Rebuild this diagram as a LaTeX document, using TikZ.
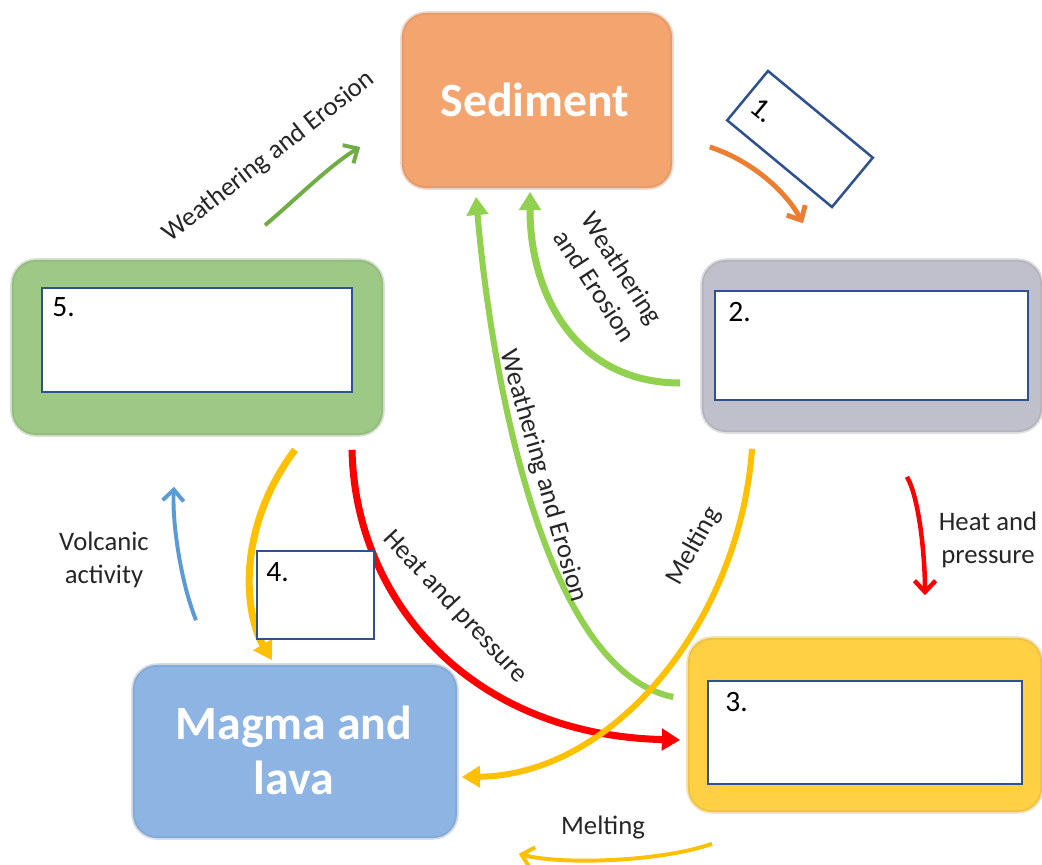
\documentclass[tikz,border=0pt]{standalone}
\usepackage{fontspec}
\setmainfont{Carlito}
\usetikzlibrary{arrows.meta,calc}
\definecolor{sedC}{RGB}{244,164,110}
\definecolor{greyC}{RGB}{192,192,204}
\definecolor{greenC}{RGB}{157,200,134}
\definecolor{yellowC}{RGB}{255,208,68}
\definecolor{blueC}{RGB}{141,180,227}
\definecolor{ansblue}{RGB}{47,82,143}
\definecolor{dkgreen}{RGB}{112,173,71}
\definecolor{ltgreen}{RGB}{146,208,80}
\definecolor{orangeA}{RGB}{237,125,49}
\definecolor{redA}{RGB}{255,0,0}
\definecolor{yellowA}{RGB}{255,192,0}
\definecolor{blueA}{RGB}{91,155,213}
\tikzset{
  rockbox/.style={rectangle, rounded corners=0.6cm, inner sep=0pt, fill=#1, draw=#1!80!black, draw opacity=0.3, line width=2.5pt},
  answer/.style={rectangle, draw=ansblue, line width=1.8pt, fill=white, inner sep=0pt},
  num/.style={font=\fontsize{21}{25}\selectfont, inner sep=0pt, text=black},
  lbl/.style={font=\fontsize{19}{23}\selectfont, text=black!85, inner sep=0pt, align=center},
  bigtxt/.style={font=\fontsize{34}{39}\selectfont\bfseries, text=white, inner sep=0pt, align=center},
  fillhead/.style={-{Triangle[length=13pt,width=15pt]}},
  barbhead/.style={-{Straight Barb[length=8pt,width=15pt]}},
}
\begin{document}
\begin{tikzpicture}[x=0.025cm,y=-0.025cm]
\useasboundingbox (0,0) rectangle (1042,865);
% rock boxes
\node[rockbox=sedC, minimum width=6.75cm, minimum height=4.375cm] (sed) at (537,100.5) {};
\node[rockbox=greyC, minimum width=8.5cm, minimum height=4.3cm] (rock2) at (872,346) {};
\node[rockbox=greenC, minimum width=9.275cm, minimum height=4.375cm] (rock5) at (197.5,347.5) {};
\node[rockbox=yellowC, minimum width=8.85cm, minimum height=4.35cm] (rock3) at (865,725) {};
\node[rockbox=blueC, minimum width=8.1cm, minimum height=4.325cm] (magma) at (295,751.5) {};
% titles
\node[bigtxt] (sedtxt) at (535,100) {Sediment};
\node[bigtxt] (magtxt) at (294,750) {Magma and\\lava};
% connectors
\draw[dkgreen, line width=2.8pt, barbhead] ($(rock5.north)+(67.5,-33)$) .. controls (295,200) and (330,165) .. ($(sed.west)+(-40,46.5)$);
\draw[orangeA, line width=3.5pt, barbhead] ($(sed.east)+(36,46.5)$) .. controls (750,160) and (785,190) .. ($(rock2.north)+(-69,-35)$);
\draw[ltgreen, line width=5pt, fillhead] ($(rock2.west)+(-20,37)$) .. controls (580,383) and (530,300) .. ($(sed.south)+(-7,2)$);
\draw[ltgreen, line width=4.3pt, fillhead] ($(rock3.west)+(-13,-28)$) .. controls (540,670) and (490,360) .. ($(sed.south)+(-61,7)$);
\draw[redA, line width=5pt, fillhead] ($(rock5.south)+(154.5,13)$) .. controls (355,600) and (470,735) .. ($(rock3.west)+(-6,15)$);
\draw[yellowA, line width=4.3pt, fillhead] ($(rock2.south)+(-120,15)$) .. controls (740,620) and (615,775) .. ($(magma.east)+(3,25.5)$);
\draw[yellowA, line width=5pt, fillhead] ($(rock5.south)+(97.5,13)$) .. controls (235,530) and (245,615) .. ($(magma.north)+(-23,-3)$);
\draw[blueA, line width=2.8pt, barbhead] ($(magma.north)+(-99,-43)$) .. controls (180,580) and (172,520) .. ($(rock5.south)+(-23.5,50)$);
\draw[redA, line width=3.2pt, barbhead] ($(rock2.south)+(35,43)$) .. controls (920,500) and (925,560) .. ($(rock3.north)+(60,-41)$);
\draw[yellowA, line width=2.8pt, barbhead] ($(rock3.south)+(-153,30)$) .. controls (660,862) and (560,865) .. ($(magma.south east)+(60,14)$);
% labels
\node[lbl, rotate=38] (l1) at (269,157) {Weathering and Erosion};
\node[lbl, rotate=-57] (l2) at (609,277) {Weathering\\and Erosion};
\node[lbl, rotate=-74] (l3) at (543,476) {Weathering and Erosion};
\node[lbl, rotate=61] (l4) at (694,546) {Melting};
\node[lbl, rotate=-47] (l5) at (455,607) {Heat and pressure};
\node[lbl] (l6) at (104,560) {Volcanic\\activity};
\node[lbl] (l7) at (988,540) {Heat and\\pressure};
\node[lbl] (l8) at (603,828) {Melting};
% answer boxes
\node[answer, minimum width=7.825cm, minimum height=2.725cm] (box2) at (871.5,345.5) {};
\node[answer, minimum width=7.75cm, minimum height=2.6cm] (box5) at (197,340) {};
\node[answer, minimum width=7.85cm, minimum height=2.575cm] (box3) at (865,732.5) {};
\node[answer, minimum width=2.925cm, minimum height=2.2cm] (box4) at (315.5,595) {};
\node[answer, minimum width=3.4cm, minimum height=1.6cm, rotate=-39.6] (box1) at (800,139) {};
\node[num, anchor=base west] (n2) at (728,322) {2.};
\node[num, anchor=base west] (n5) at (52,317) {5.};
\node[num, anchor=base west] (n3) at (725,712) {3.};
\node[num, anchor=base west] (n4) at (266,582) {4.};
\node[num, rotate=-39.6] (n1) at (763,110) {1.};
\end{tikzpicture}
\end{document}
